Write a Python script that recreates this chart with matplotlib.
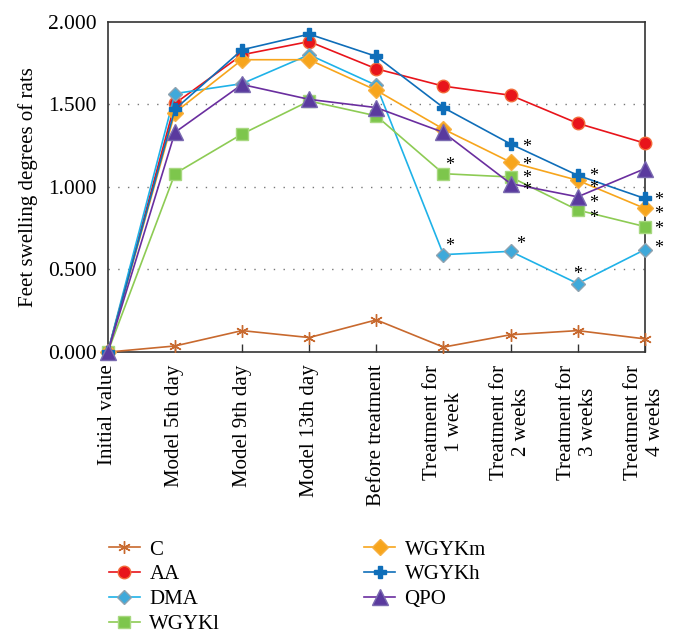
import matplotlib
matplotlib.use("Agg")
import matplotlib.pyplot as plt

plt.rcParams['font.family'] = ['Liberation Serif', 'DejaVu Serif']

stages = ["Initial value", "Model 5th day", "Model 9th day", "Model 13th day",
          "Before treatment", "Treatment for\n1 week", "Treatment for\n2 weeks",
          "Treatment for\n3 weeks", "Treatment for\n4 weeks"]

c_vals = [0.0, 0.037, 0.130, 0.088, 0.195, 0.030, 0.105, 0.130, 0.080]
aa_vals = [0.0, 1.505, 1.800, 1.880, 1.715, 1.610, 1.555, 1.385, 1.265]
dma_vals = [0.0, 1.565, 1.625, 1.800, 1.615, 0.590, 0.610, 0.415, 0.620]
wgykl_vals = [0.0, 1.080, 1.320, 1.520, 1.430, 1.080, 1.060, 0.860, 0.760]
wgykm_vals = [0.0, 1.450, 1.770, 1.770, 1.585, 1.350, 1.150, 1.040, 0.870]
wgykh_vals = [0.0, 1.470, 1.830, 1.925, 1.790, 1.480, 1.260, 1.070, 0.930]
qpo_vals = [0.0, 1.330, 1.620, 1.530, 1.480, 1.330, 1.020, 0.940, 1.110]

# significance stars (x in stage units, y in data units)
star_x = [5.1, 5.1, 6.24, 6.24, 6.24, 6.24, 6.15, 7.24, 7.24, 7.24, 7.24, 7.0, 8.2, 8.2, 8.2, 8.2]
star_y = [1.13, 0.64, 1.24, 1.13, 1.05, 0.98, 0.65, 1.06, 0.99, 0.90, 0.81, 0.47, 0.92, 0.83, 0.74, 0.63]

series = [
    ("C", c_vals, "#C8692E", (6, 2, 0), 9, "#C8692E", "#C8692E"),
    ("AA", aa_vals, "#E8141B", "o", 9, "#E8141B", "#F26B3A"),
    ("DMA", dma_vals, "#1FB2E8", "D", 7, "#3FA9DA", "#8FA3B0"),
    ("WGYKl", wgykl_vals, "#8DCB54", "s", 8, "#7DC64C", "#A8D880"),
    ("WGYKm", wgykm_vals, "#F7A51C", "D", 8, "#F7A51C", "#F7B040"),
    ("WGYKh", wgykh_vals, "#0F6EB9", "P", 9, "#0F6EB9", "#0F6EB9"),
    ("QPO", qpo_vals, "#6A2E9F", "^", 11, "#5A3A9E", "#7A6AB0"),
]

fig = plt.figure(figsize=(6.78, 6.39), dpi=100)
ax = fig.add_axes([0.159, 0.449, 0.792, 0.517])

x = list(range(len(stages)))
for name, vals, color, marker, ms, face, edge in series:
    ax.plot(x, vals, color=color, lw=1.2, marker=marker, markersize=ms,
            markerfacecolor=face, markeredgecolor=edge, markeredgewidth=1.0,
            label=name, clip_on=False, zorder=3)

for sx, sy in zip(star_x, star_y):
    ax.text(sx, sy, "*", fontsize=13, ha="center", va="center", color="black")

for g in [0.5, 1.0, 1.5]:
    ax.axhline(g, color="#777777", lw=1.0, ls=(0, (1, 6)), zorder=1)

ax.set_xlim(0, 8)
ax.set_ylim(0, 2.0)
ax.set_yticks([0, 0.5, 1.0, 1.5, 2.0])
ax.set_yticklabels(["0.000", "0.500", "1.000", "1.500", "2.000"], fontsize=15.5)
ax.set_xticks(x)
ax.set_xticklabels(stages, rotation=90, fontsize=15, ha="center", va="top",
                   multialignment="center")
ax.tick_params(axis="x", direction="in", length=6, width=1, color="#333333", pad=9)
ax.tick_params(axis="y", length=0, pad=8)
ax.set_ylabel("Feet swelling degrees of rats", fontsize=15, labelpad=7)
for sp in ax.spines.values():
    sp.set_color("#333333")
    sp.set_linewidth(1.2)

fig.legend(loc="upper left", bbox_to_anchor=(0.148, 0.168), ncol=2, frameon=False,
           fontsize=15, columnspacing=6.9, handlelength=1.5, handletextpad=0.45,
           labelspacing=0.25, borderaxespad=0)

fig.savefig("out.png", dpi=100)
